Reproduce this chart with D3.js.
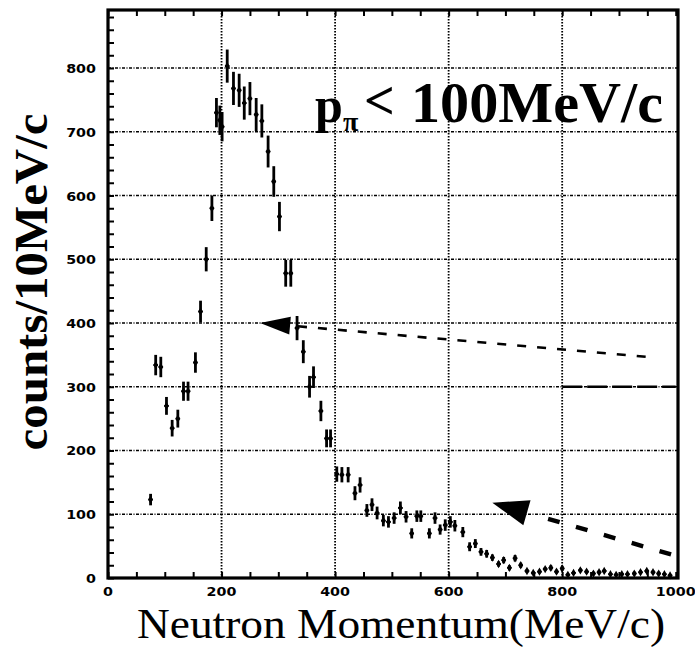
<!DOCTYPE html>
<html>
<head>
<meta charset="utf-8">
<script src="https://cdn.jsdelivr.net/npm/d3@7"></script>
<style>
  html, body { margin: 0; padding: 0; background: #fff; }
  svg { display: block; }
</style>
</head>
<body>
<svg id="chart" width="695" height="648"></svg>
<script>
// Neutron momentum spectrum, counts per 10 MeV/c bin
const momentum = [75, 84, 93, 103, 113, 123, 133, 141, 154, 163, 173, 183, 191, 197, 201,
  210, 221, 231, 240, 250, 261, 271, 282, 292, 302, 313, 322, 333, 344, 355, 362, 375, 385, 392,
  403, 412, 423, 435, 444, 456, 465, 474, 485, 494, 504, 515, 525, 535, 544, 551, 566, 576, 585,
  594, 603, 611, 625, 637, 647, 657, 667, 677, 688, 697, 707, 717, 727, 738, 749, 760, 770, 780,
  790, 800, 810, 820, 832, 843, 855, 865, 874, 885, 895, 905, 915, 927, 938, 949, 960, 970, 980, 990];
const counts = [123, 334, 331, 270, 235, 250, 293, 293, 338, 418, 500, 580, 730, 718, 708,
  803, 768, 765, 745, 752, 727, 717, 669, 622, 567, 478, 478, 392, 355, 300, 315, 262, 219, 219,
  163, 162, 162, 133, 146, 106, 115, 102, 90, 88, 94, 110, 96, 70, 97, 97, 70, 94, 76,
  83, 88, 82, 72, 49, 54, 41, 38, 32, 22, 28, 16, 31, 20, 11, 8, 10, 14, 16,
  10, 15, 5, 8, 12, 10, 7, 9, 11, 6, 5, 6, 6, 7, 9, 11, 9, 7, 6, 4];
const errors = [9, 16, 16, 14, 13, 14, 15, 15, 16, 17, 19, 20, 23, 23, 23,
  26, 26, 26, 26, 26, 26, 26, 25, 24, 23, 21, 21, 19, 18, 17, 17, 16, 14, 14,
  12, 12, 12, 11, 12, 10, 10, 10, 9, 9, 9, 10, 9, 8, 9, 9, 8, 9, 8,
  9, 9, 9, 8, 7, 7, 6, 6, 5, 4, 5, 4, 5, 4, 3, 3, 3, 3, 4,
  3, 4, 2, 3, 3, 3, 3, 3, 3, 2, 2, 2, 2, 3, 3, 3, 3, 3, 2, 2];

// Guide lines with arrowheads (momentum, counts)
const upperLineX = [268, 960];
const upperLineY = [400, 346];
const lowerLineX = [677, 1000];
const lowerLineY = [118, 35];
const flatLineX = [800, 1000];
const flatLineY = [300, 300];

const xTickLabels = [0, 200, 400, 600, 800, 1000];
const yTickLabels = [0, 100, 200, 300, 400, 500, 600, 700, 800];

const svg = d3.select("#chart");
const plotL = 108, plotR = 678, plotT = 10, plotB = 578;
const x = d3.scaleLinear().domain([0, 1004]).range([plotL, plotR]);
const y = d3.scaleLinear().domain([0, 891]).range([plotB, plotT]);

// Grid lines
const grid = svg.append("g");
grid.selectAll("line.h").data(yTickLabels.filter(v => v > 0)).join("line")
  .attr("x1", plotL).attr("x2", plotR)
  .attr("y1", d => y(d)).attr("y2", d => y(d))
  .attr("stroke", "#000").attr("stroke-width", 1.6)
  .attr("stroke-dasharray", "3,1.5,1,1.5");
grid.selectAll("line.v").data([200, 400, 600, 800]).join("line")
  .attr("x1", d => x(d)).attr("x2", d => x(d))
  .attr("y1", plotT).attr("y2", plotB)
  .attr("stroke", "#000").attr("stroke-width", 1.8)
  .attr("stroke-dasharray", "1.5,1.5");

// Axes with minor ticks
const xAxisB = d3.axisBottom(x).tickValues(d3.range(0, 1001, 50)).tickSize(-6).tickFormat("");
const xAxisT = d3.axisTop(x).tickValues(d3.range(0, 1001, 50)).tickSize(-6).tickFormat("");
const yAxisL = d3.axisLeft(y).tickValues(d3.range(0, 881, 20)).tickSize(-6).tickFormat("");
[[xAxisB, `translate(0,${plotB})`], [xAxisT, `translate(0,${plotT})`], [yAxisL, `translate(${plotL},0)`]]
  .forEach(([ax, tr]) => {
    const g = svg.append("g").attr("transform", tr).call(ax);
    g.select(".domain").remove();
    g.selectAll(".tick line").attr("stroke", "#000").attr("stroke-width", 2);
  });

// Tick labels
const tickFont = "'DejaVu Sans', sans-serif";
svg.append("g").selectAll("text").data(xTickLabels).join("text")
  .attr("x", d => x(d)).attr("y", 596)
  .attr("text-anchor", "middle")
  .attr("font-family", tickFont).attr("font-weight", "bold").attr("font-size", 13)
  .attr("transform", d => `translate(${x(d)},0) scale(1.1,1) translate(${-x(d)},0)`)
  .text(d => d);
svg.append("g").selectAll("text").data(yTickLabels).join("text")
  .attr("x", 96).attr("y", d => y(d) + 5)
  .attr("text-anchor", "end")
  .attr("font-family", tickFont).attr("font-weight", "bold").attr("font-size", 13)
  .attr("transform", "translate(96,0) scale(1.1,1) translate(-96,0)")
  .text(d => d);

// Additional long-dash line at 300
const line = d3.line().x(d => x(d[0])).y(d => y(d[1]));
svg.append("path").datum(d3.zip(flatLineX, flatLineY)).attr("d", line)
  .attr("fill", "none").attr("stroke", "#000").attr("stroke-width", 2.4)
  .attr("stroke-dasharray", "20,5");

// Arrow guides
function arrow(xs, ys, len, half, dash, width, gap) {
  const p0 = [x(xs[0]), y(ys[0])], p1 = [x(xs[1]), y(ys[1])];
  const dx = p1[0] - p0[0], dy = p1[1] - p0[1], L = Math.hypot(dx, dy);
  const ux = dx / L, uy = dy / L;
  const base = [p0[0] + ux * len, p0[1] + uy * len];
  svg.append("path")
    .attr("d", `M${p0[0]},${p0[1]}L${base[0] - uy * half},${base[1] + ux * half}L${base[0] + uy * half},${base[1] - ux * half}Z`)
    .attr("fill", "#000");
  const start = [p0[0] + ux * (len + gap), p0[1] + uy * (len + gap)];
  svg.append("line")
    .attr("x1", start[0]).attr("y1", start[1]).attr("x2", p1[0]).attr("y2", p1[1])
    .attr("stroke", "#000").attr("stroke-width", width)
    .attr("stroke-dasharray", dash);
}
arrow(upperLineX, upperLineY, 30, 9, "9,11", 2.6, 8);
arrow(lowerLineX, lowerLineY, 36, 13, "12,17", 4.4, 22);

// Data points with error bars
const pts = d3.zip(momentum, counts, errors);
const g = svg.append("g");
g.selectAll("line.err").data(pts).join("line")
  .attr("x1", d => x(d[0])).attr("x2", d => x(d[0]))
  .attr("y1", d => y(d[1] - d[2])).attr("y2", d => y(d[1] + d[2]))
  .attr("stroke", "#000").attr("stroke-width", 2.8);
g.selectAll("line.bin").data(pts).join("line")
  .attr("x1", d => x(d[0] - 4)).attr("x2", d => x(d[0] + 4))
  .attr("y1", d => y(d[1])).attr("y2", d => y(d[1]))
  .attr("stroke", "#000").attr("stroke-width", 1.8);
g.selectAll("path.mk").data(pts).join("path")
  .attr("d", d3.symbol(d3.symbolDiamond, 20))
  .attr("transform", d => `translate(${x(d[0])},${y(d[1])})`)
  .attr("fill", "#000");

// Frame
svg.append("rect")
  .attr("x", plotL).attr("y", plotT).attr("width", plotR - plotL).attr("height", plotB - plotT)
  .attr("fill", "none").attr("stroke", "#000").attr("stroke-width", 3.2);

// Axis titles
const serif = "'Liberation Serif', 'Times New Roman', serif";
svg.append("text")
  .attr("x", 137).attr("y", 638)
  .attr("font-family", serif)
  .attr("font-size", 43)
  .attr("textLength", 528).attr("lengthAdjust", "spacingAndGlyphs")
  .text("Neutron Momentum(MeV/c)");
svg.append("text")
  .attr("transform", "translate(47,282) rotate(-90)")
  .attr("text-anchor", "middle")
  .attr("font-family", serif)
  .attr("font-weight", "bold").attr("font-size", 46)
  .attr("textLength", 337).attr("lengthAdjust", "spacingAndGlyphs")
  .text("counts/10MeV/c");

// Cut annotation: p_pi < 100 MeV/c
const cut = svg.append("text")
  .attr("font-family", serif).attr("font-weight", "bold");
cut.append("tspan").attr("x", 315).attr("y", 122).attr("font-size", 50).text("p");
cut.append("tspan").attr("x", 343).attr("y", 131).attr("font-size", 28).text("π");
cut.append("tspan").attr("x", 364).attr("y", 119).attr("font-size", 54).text("<");
cut.append("tspan").attr("x", 411).attr("y", 122).attr("font-size", 58)
  .attr("textLength", 252).attr("lengthAdjust", "spacingAndGlyphs").text("100MeV/c");
</script>
</body>
</html>
